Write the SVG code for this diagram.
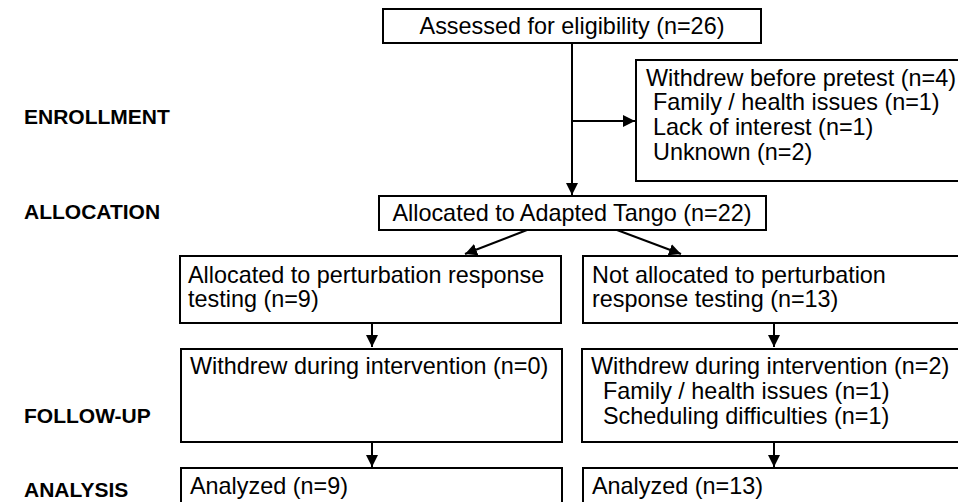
<svg xmlns="http://www.w3.org/2000/svg" width="958" height="502" viewBox="0 0 958 502">
<style>
  .box{fill:#fff;stroke:#000;stroke-width:2}
  .t{font-family:"Liberation Sans",Arial,Helvetica,sans-serif;font-size:23.4px;fill:#000}
  .lbl{font-family:"Liberation Sans",Arial,Helvetica,sans-serif;font-size:21px;font-weight:bold;fill:#000}
  .c{fill:none;stroke:#000;stroke-width:2}
</style>
<defs>
  <marker id="ah" viewBox="0 0 10 10" refX="10" refY="5" markerWidth="6" markerHeight="6" markerUnits="strokeWidth" orient="auto">
    <path d="M0,0 L10,5 L0,10 Z" fill="#000"/>
  </marker>
</defs>
<rect width="958" height="502" fill="#fff"/>
<g id="stage-labels">
  <text class="lbl" x="24" y="124">ENROLLMENT</text>
  <text class="lbl" x="24" y="219">ALLOCATION</text>
  <text class="lbl" x="24" y="423">FOLLOW-UP</text>
  <text class="lbl" x="24" y="497">ANALYSIS</text>
</g>
<g id="connectors">
  <line class="c" x1="572" y1="43" x2="572" y2="195" marker-end="url(#ah)"/>
  <line class="c" x1="572" y1="121" x2="635" y2="121" marker-end="url(#ah)"/>
  <line class="c" x1="527" y1="230" x2="465" y2="254" marker-end="url(#ah)"/>
  <line class="c" x1="617" y1="230" x2="681" y2="254" marker-end="url(#ah)"/>
  <line class="c" x1="372" y1="323" x2="372" y2="347" marker-end="url(#ah)"/>
  <line class="c" x1="774" y1="323" x2="774" y2="347" marker-end="url(#ah)"/>
  <line class="c" x1="372" y1="442" x2="372" y2="467" marker-end="url(#ah)"/>
  <line class="c" x1="774" y1="442" x2="774" y2="467" marker-end="url(#ah)"/>
</g>
<g id="assessed">
  <rect class="box" x="383" y="9" width="378" height="34"/>
  <text class="t" x="572" y="34" text-anchor="middle">Assessed for eligibility (n=26)</text>
</g>
<g id="withdrew-pretest">
  <rect class="box" x="636" y="60" width="330" height="121"/>
  <text class="t" x="646" y="86">Withdrew before pretest (n=4)</text>
  <text class="t" x="653" y="110">Family / health issues (n=1)</text>
  <text class="t" x="653" y="135">Lack of interest (n=1)</text>
  <text class="t" x="653" y="160">Unknown (n=2)</text>
</g>
<g id="allocated">
  <rect class="box" x="379" y="196" width="387" height="34"/>
  <text class="t" x="572" y="221" text-anchor="middle">Allocated to Adapted Tango (n=22)</text>
</g>
<g id="alloc-pert">
  <rect class="box" x="180" y="256" width="381" height="67"/>
  <text class="t" x="188" y="283">Allocated to perturbation response</text>
  <text class="t" x="188" y="307">testing (n=9)</text>
</g>
<g id="not-alloc-pert">
  <rect class="box" x="583" y="256" width="383" height="67"/>
  <text class="t" x="592" y="283">Not allocated to perturbation</text>
  <text class="t" x="592" y="307">response testing (n=13)</text>
</g>
<g id="withdrew-left">
  <rect class="box" x="181" y="349" width="381" height="93"/>
  <text class="t" x="190" y="374">Withdrew during intervention (n=0)</text>
</g>
<g id="withdrew-right">
  <rect class="box" x="582" y="349" width="384" height="93"/>
  <text class="t" x="591" y="374">Withdrew during intervention (n=2)</text>
  <text class="t" x="603" y="399">Family / health issues (n=1)</text>
  <text class="t" x="603" y="424">Scheduling difficulties (n=1)</text>
</g>
<g id="analyzed-left">
  <rect class="box" x="181" y="468" width="381" height="50"/>
  <text class="t" x="190" y="494">Analyzed (n=9)</text>
</g>
<g id="analyzed-right">
  <rect class="box" x="583" y="468" width="383" height="50"/>
  <text class="t" x="592" y="494">Analyzed (n=13)</text>
</g>
</svg>
